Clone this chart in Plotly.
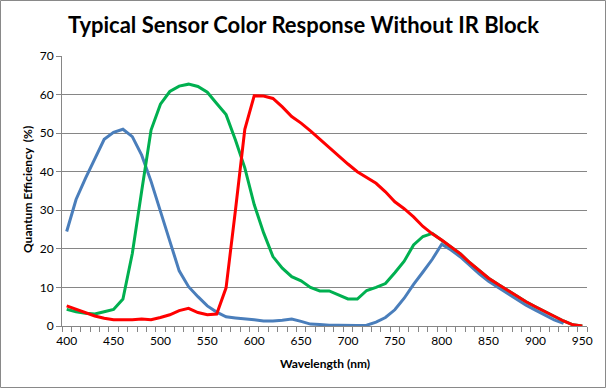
import plotly.graph_objects as go

wavelength = list(range(400, 951, 10))

blue = [24.5, 32.8, 38.3, 43.3, 48.4, 50.2, 51.0, 49.1, 44.3, 37.5,
        30.0, 22.0, 14.3, 10.2, 7.6, 5.2, 3.6, 2.4, 2.1, 1.9,
        1.6, 1.3, 1.3, 1.5, 1.8, 1.2, 0.5, 0.4, 0.2, 0.2,
        0.1, 0.1, 0.2, 1.0, 2.2, 4.2, 7.2, 10.8, 14.0, 17.3,
        21.2, 19.7, 17.9, 15.7, 13.5, 11.6, 10.0, 8.5, 6.8, 5.4,
        4.1, 2.9, 1.6, 0.7, None, None]

green = [4.3, 3.7, 3.3, 3.1, 3.7, 4.3, 7.0, 18.8, 35.0, 50.8,
         57.5, 60.8, 62.2, 62.7, 62.1, 60.6, 57.7, 54.8, 48.2, 41.0,
         31.5, 24.2, 18.0, 15.0, 12.8, 11.7, 10.0, 9.1, 9.1, 8.0,
         7.0, 7.0, 9.2, 10.0, 11.0, 13.8, 16.8, 21.0, 23.2, 24.0,
         22.3, 20.6, 18.7, 16.4, 14.3, 12.4, 10.8, 9.3, 7.6, 6.3,
         5.0, 3.7, 2.4, 1.3, 0.3, 0.0]

red = [5.2, 4.3, 3.5, 2.6, 2.0, 1.6, 1.6, 1.6, 1.8, 1.6,
       2.2, 2.9, 4.0, 4.6, 3.5, 2.9, 3.1, 9.9, 30.0, 51.0,
       59.7, 59.6, 59.0, 56.8, 54.3, 52.6, 50.6, 48.4, 46.4, 44.1,
       42.0, 40.0, 38.5, 37.0, 34.8, 32.2, 30.4, 28.3, 25.8, 23.9,
       22.3, 20.6, 18.7, 16.4, 14.3, 12.4, 10.8, 9.3, 7.6, 6.3,
       5.0, 3.7, 2.4, 1.3, 0.3, 0.0]

x_ticks = list(range(400, 951, 50))
y_ticks = list(range(0, 71, 10))

FONT = "Lato"
W, H = 607, 389
ML, MR, MT, MB = 62, 20, 56, 63

fig = go.Figure()
for name, ys, col in [("Blue", blue, "#4A7EBB"), ("Green", green, "#00B050"), ("Red", red, "#FF0000")]:
    fig.add_trace(go.Scatter(x=wavelength, y=ys, mode="lines", name=name,
                             line=dict(color=col, width=3), connectgaps=False,
                             hoverinfo="skip"))

pw = W - ML - MR
ph = H - MT - MB
fig.add_shape(type="rect", xref="paper", yref="paper",
              x0=(0.5 - ML) / pw, x1=(W - 1.5 - ML) / pw,
              y0=-(MB - 1.5) / ph, y1=1 + (MT - 0.5) / ph,
              line=dict(color="#898989", width=1), fillcolor="rgba(0,0,0,0)", layer="above")

fig.add_annotation(text="<b>Quantum Efficiency\u00a0 (%)</b>", xref="paper", yref="paper",
                   x=(27 - ML) / pw, y=(H - MB - 190) / ph, xanchor="center", yanchor="middle",
                   textangle=-90, showarrow=False, font=dict(family=FONT, size=12, color="black"))
fig.add_annotation(text="<b>Wavelength (nm)</b>", xref="paper", yref="paper",
                   x=0.5, y=-(363.5 - (H - MB)) / ph, xanchor="center", yanchor="middle",
                   showarrow=False, font=dict(family=FONT, size=12, color="black"))

fig.update_layout(
    width=W, height=H,
    margin=dict(l=ML, r=MR, t=MT, b=MB, autoexpand=False),
    paper_bgcolor="white", plot_bgcolor="white",
    showlegend=False,
    font=dict(family=FONT, size=12, color="black"),
    title=dict(text="<b>Typical Sensor Color Response Without IR Block</b>",
               x=0.5, xref="container", xanchor="center", y=1 - 25 / H, yanchor="middle",
               font=dict(family=FONT, size=22, color="black")),
    xaxis=dict(range=[395, 955], tickvals=x_ticks, ticks="", showgrid=False,
               showline=True, linecolor="#868686", linewidth=1, automargin=False,
               minor=dict(tickvals=list(range(395, 956, 10)), ticks="outside",
                          ticklen=5, tickcolor="#868686", tickwidth=1),
               tickfont=dict(size=12), zeroline=False, ticklabelstandoff=4),
    yaxis=dict(range=[0, 70], tickvals=y_ticks, ticks="outside", ticklen=5,
               tickcolor="#868686", showgrid=True, gridcolor="#868686", gridwidth=1,
               showline=True, linecolor="#868686", linewidth=1, zeroline=False,
               tickfont=dict(size=12), automargin=False),
)

fig.write_html("out.html", config={"displayModeBar": False},
               post_script="document.body.style.margin='0px';")
